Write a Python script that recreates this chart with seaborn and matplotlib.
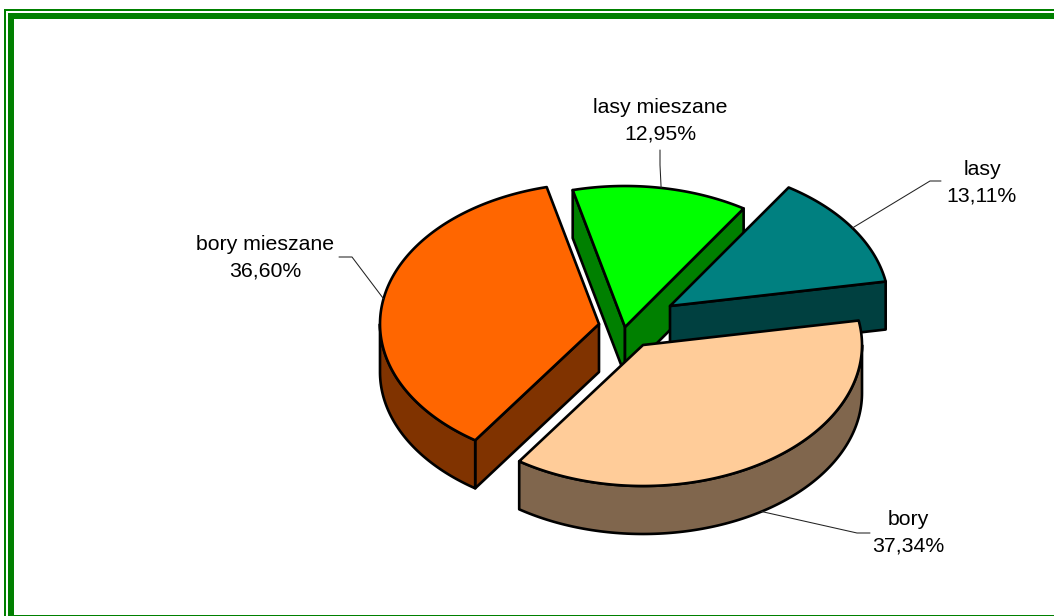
import numpy as np
import matplotlib
matplotlib.use("Agg")
import matplotlib.pyplot as plt
from matplotlib.patches import Rectangle
import seaborn as sns

# data
categories = ["bory", "bory mieszane", "lasy mieszane", "lasy"]
shares = [37.34, 36.60, 12.95, 13.11]
share_labels = ["37,34%", "36,60%", "12,95%", "13,11%"]
top_colors = ["#FFCC99", "#FF6600", "#00FF00", "#008080"]

# layout (pixels)
W, H = 1054, 616
START_ANGLE = 10.0
RX, RY, DEPTH = 219, 141, 48
apexes = [(643, 345), (599, 324), (625, 327), (670, 306)]
label_centers = [(908, 533), (265, 258), (660, 121), (982, 183)]
# leader: elbow point, then end of horizontal run
elbows = [((857, 533), (870, 533)), ((352, 257), (339, 257)),
          ((660, 165), (660, 150)), ((930, 181), (941, 181))]
anchor_drop = [DEPTH, 0, 0, 0]
LW = 1.9
FRAME = "#008000"

sns.set_theme(style="white")
plt.rcParams["font.family"] = ["Liberation Sans", "DejaVu Sans"]
palette = sns.color_palette(top_colors)

fig = plt.figure(figsize=(W / 100, H / 100), dpi=100, facecolor="white")
ax = fig.add_axes([0, 0, 1, 1])
ax.set_xlim(0, W)
ax.set_ylim(H, 0)
ax.axis("off")

# frame
for x, y, w, h in [(4, 9, W - 4, 2), (4, 9, 2, H - 9), (8, 13, W - 8, 6),
                   (8, 13, 6, H - 13), (14, 615, W - 14, 1)]:
    ax.add_patch(Rectangle((x, y), w, h, fc=FRAME, ec="none", zorder=1))


def rim(apex, t, drop=0.0):
    t = np.radians(t)
    return apex[0] + RX * np.cos(t), apex[1] - RY * np.sin(t) + drop


def shade(c):
    return tuple(0.5 * v for v in c)


ends = START_ANGLE - np.cumsum(np.array(shares) / sum(shares) * 360)
starts = np.r_[START_ANGLE, ends[:-1]]
z = 2
# painter's order: back slices first
for i in [2, 3, 1, 0]:
    apex, a, b = apexes[i], starts[i], ends[i]
    side = shade(palette[i])
    # radial cut faces that face the viewer
    for t, visible in ((a, np.cos(np.radians(a)) < 0), (b, np.cos(np.radians(b)) > 0)):
        if visible:
            x1, y1 = rim(apex, t)
            ax.fill([apex[0], x1, x1, apex[0]],
                    [apex[1], y1, y1 + DEPTH, apex[1] + DEPTH],
                    fc=side, ec="black", lw=LW, joinstyle="round", zorder=z)
            z += 1
    # outer wall: only the lower half of the ellipse is seen
    for k in (0, -360):
        hi, lo = min(a, 0 + k), max(b, -180 + k)
        if hi > lo:
            ts = np.linspace(hi, lo, 120)
            xs, ys = rim(apex, ts)
            ax.fill(np.r_[xs, xs[::-1]], np.r_[ys, ys[::-1] + DEPTH],
                    fc=side, ec="black", lw=LW, joinstyle="round", zorder=z)
            z += 1
    # top surface
    ts = np.linspace(a, b, 200)
    xs, ys = rim(apex, ts)
    ax.fill(np.r_[apex[0], xs], np.r_[apex[1], ys], fc=palette[i], ec="black",
            lw=LW, joinstyle="round", zorder=z)
    z += 1

# labels and leader lines
for i, name in enumerate(categories):
    mx, my = rim(apexes[i], (starts[i] + ends[i]) / 2, anchor_drop[i])
    (ex, ey), (fx, fy) = elbows[i]
    ax.plot([mx, ex, fx], [my, ey, fy], color="#222222", lw=0.75, zorder=z + 1,
            solid_joinstyle="miter")
    ax.text(label_centers[i][0], label_centers[i][1], f"{name}\n{share_labels[i]}",
            ha="center", va="center", fontsize=15.3, color="black",
            linespacing=1.52, zorder=z + 2)

fig.savefig("out.png", dpi=100, facecolor="white")
